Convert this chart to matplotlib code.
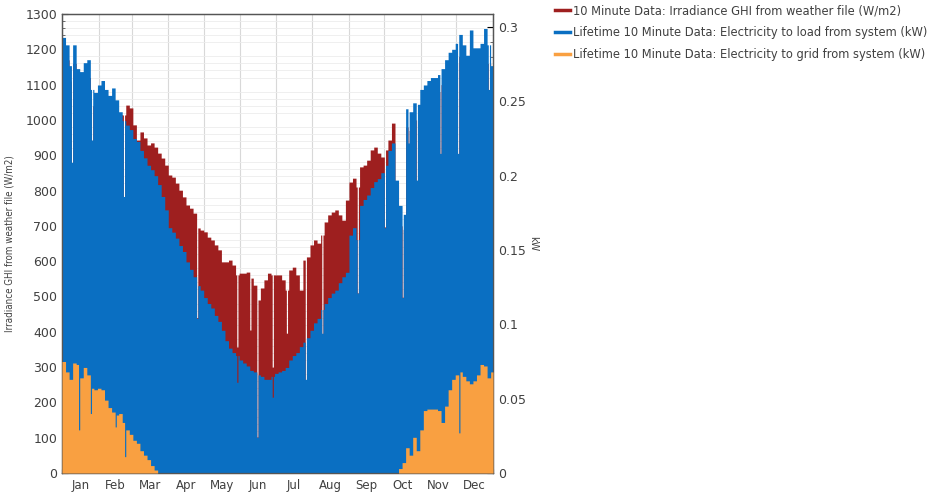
import numpy as np
import matplotlib
matplotlib.use("Agg")
import matplotlib.pyplot as plt
from matplotlib.lines import Line2D

# 3-day envelope values (day 0, 3, 6, ... 363)
ghi_wm2 = [
    1190, 1170, 1110, 1160, 1100, 1090, 1110, 1120, 1040, 1030, 1050, 1060,
    1040, 1020, 1040, 1000, 1015, 1014, 1042, 1034, 986, 943, 966, 949,
    929, 935, 923, 906, 892, 872, 844, 838, 821, 801, 782, 759,
    750, 736, 694, 688, 683, 668, 660, 646, 632, 598, 598, 603,
    589, 561, 566, 566, 569, 552, 532, 490, 524, 547, 566, 561,
    561, 561, 547, 518, 575, 583, 561, 518, 603, 612, 646, 660,
    651, 674, 711, 731, 739, 745, 731, 716, 773, 824, 835, 810,
    867, 872, 886, 915, 923, 906, 895, 915, 943, 991, 816, 700,
    690, 980, 970, 1000, 1000, 1040, 1050, 1060, 1070, 1070, 1080, 1100,
    1120, 1140, 1150, 1160, 1180, 1160, 1130, 1200, 1150, 1150, 1160, 1210,
    1160, 1100,
]
load_kw = [
    0.293, 0.288, 0.274, 0.288, 0.272, 0.270, 0.276, 0.278, 0.258, 0.256, 0.261, 0.264,
    0.258, 0.254, 0.259, 0.251, 0.243, 0.237, 0.234, 0.231, 0.225, 0.223, 0.217, 0.212,
    0.207, 0.204, 0.200, 0.194, 0.186, 0.177, 0.165, 0.162, 0.158, 0.153, 0.149, 0.142,
    0.137, 0.132, 0.126, 0.123, 0.118, 0.114, 0.111, 0.106, 0.102, 0.096, 0.089, 0.084,
    0.081, 0.079, 0.076, 0.074, 0.072, 0.069, 0.068, 0.066, 0.065, 0.063, 0.063, 0.065,
    0.067, 0.068, 0.069, 0.071, 0.076, 0.079, 0.081, 0.085, 0.088, 0.091, 0.096, 0.101,
    0.104, 0.110, 0.114, 0.118, 0.121, 0.123, 0.128, 0.132, 0.135, 0.160, 0.165, 0.157,
    0.180, 0.184, 0.187, 0.192, 0.196, 0.198, 0.202, 0.207, 0.217, 0.222, 0.197, 0.180,
    0.174, 0.245, 0.243, 0.249, 0.248, 0.258, 0.261, 0.264, 0.266, 0.266, 0.268, 0.272,
    0.278, 0.283, 0.285, 0.289, 0.295, 0.288, 0.281, 0.298, 0.286, 0.286, 0.289, 0.299,
    0.288, 0.274,
]
grid_kw = [
    0.075, 0.068, 0.063, 0.074, 0.073, 0.064, 0.071, 0.066, 0.057, 0.056, 0.057, 0.056,
    0.049, 0.044, 0.041, 0.039, 0.040, 0.034, 0.029, 0.026, 0.022, 0.020, 0.015, 0.012,
    0.009, 0.005, 0.002,
] + [0.0] * 68 + [
    0.003, 0.007, 0.017, 0.012, 0.024, 0.015, 0.029, 0.042, 0.043, 0.043, 0.043, 0.042,
    0.034, 0.045, 0.056, 0.063, 0.066, 0.068, 0.065, 0.062, 0.060, 0.062, 0.066, 0.073,
    0.072, 0.064, 0.068,
]

# cloudy days (day of year, load kW, GHI W/m2)
dip_days = [8, 25, 52, 114, 148, 159, 165, 178, 190, 206, 220, 250, 273, 288, 293, 300, 320, 335, 361]
dip_load = [0.209, 0.224, 0.186, 0.104, 0.061, None, 0.024, 0.051, None, 0.063, 0.094, 0.121,
            0.165, 0.118, 0.222, 0.197, 0.215, 0.215, 0.258]
dip_ghi = [800, 900, 770, 440, 357, 405, 102, 300, 396, 263, 390, 510, 697, 498, 900, 800, 850, 850, 1050]
grid_dip_days = [14, 24, 45, 53, 336]
grid_dip_kw = [0.029, 0.040, 0.031, 0.011, 0.027]

months = ["Jan", "Feb", "Mar", "Apr", "May", "Jun", "Jul", "Aug", "Sep", "Oct", "Nov", "Dec"]
month_len = [31, 28, 31, 30, 31, 30, 31, 31, 30, 31, 30, 31]

# daily series from the 3-day values
ghi = np.repeat(np.array(ghi_wm2, float), 3)[:365]
load = np.repeat(np.array(load_kw, float), 3)[:365]
grid = np.repeat(np.array(grid_kw, float), 3)[:365]
for d, l, g in zip(dip_days, dip_load, dip_ghi):
    if l is not None:
        load[d] = l
    ghi[d] = g
for d, k in zip(grid_dip_days, grid_dip_kw):
    grid[d] = k

days = np.arange(366)
ghi = np.append(ghi, ghi[-1])
load = np.append(load, load[-1])
grid = np.append(grid, grid[-1])

RED = "#9E1F1F"
BLUE = "#0A6FC2"
ORANGE = "#F9A041"
TXT = "#404040"

fig = plt.figure(figsize=(9.33, 4.92), dpi=100)
ax = fig.add_axes([62 / 933, 19 / 492, 431 / 933, 459 / 492])
ax2 = ax.twinx()

ax.fill_between(days, ghi, step="post", color=RED, lw=0, zorder=2)
ax2.fill_between(days, load, step="post", color=BLUE, lw=0, zorder=2)
ax2.fill_between(days, grid, step="post", color=ORANGE, lw=0, zorder=3)

ax.set_xlim(0, 365)
ax.set_ylim(0, 1300)
ax2.set_ylim(0, 0.3 * 459 / 446)

bounds = np.concatenate([[0], np.cumsum(month_len)])
mids = (bounds[:-1] + bounds[1:]) / 2
ax.set_xticks(bounds)
ax.set_xticklabels([])
ax.set_xticks(mids, minor=True)
ax.set_xticklabels(months, minor=True)
ax.tick_params(axis="x", which="minor", length=0, labelsize=8.5, colors=TXT, pad=4)
ax.tick_params(axis="x", which="major", direction="in", length=3, color="#222222")

ax.set_yticks(np.arange(0, 1301, 100))
ax.set_yticks(np.arange(0, 1301, 20), minor=True)
ax.tick_params(axis="y", which="major", direction="in", length=4, labelsize=9,
               color="#222222", labelcolor=TXT)
ax.tick_params(axis="y", which="minor", direction="in", length=2, color="#555555")

ax2.set_yticks([0, 0.05, 0.1, 0.15, 0.2, 0.25, 0.3])
ax2.set_yticklabels(["0", "0.05", "0.1", "0.15", "0.2", "0.25", "0.3"])
ax2.set_yticks(np.arange(0, 0.305, 0.01), minor=True)
ax2.tick_params(axis="y", which="major", direction="in", length=4, labelsize=9, labelcolor=TXT)
ax2.tick_params(axis="y", which="minor", direction="in", length=2, color="#555555")

ax.grid(True, which="major", axis="x", color="#d8d8d8", lw=0.8, zorder=0)
ax.grid(True, which="minor", axis="y", color="#ececec", lw=0.6, zorder=0)
ax.set_axisbelow(True)

for a in (ax, ax2):
    for s in a.spines.values():
        s.set_color("#555555")
        s.set_linewidth(0.9)

ax.set_ylabel("Irradiance GHI from weather file (W/m2)", fontsize=7, fontstretch="condensed",
              family=["DejaVu Sans"], color=TXT, labelpad=8)
ax2.set_ylabel("kW", fontsize=7, color=TXT, rotation=270, labelpad=9)

handles = [Line2D([], [], color=RED, lw=2.5),
           Line2D([], [], color=BLUE, lw=2.5),
           Line2D([], [], color=ORANGE, lw=2.5)]
labels = ["10 Minute Data: Irradiance GHI from weather file (W/m2)",
          "Lifetime 10 Minute Data: Electricity to load from system (kW)",
          "Lifetime 10 Minute Data: Electricity to grid from system (kW)"]
fig.legend(handles, labels, loc="upper left", bbox_to_anchor=(548 / 933, 1.005),
           frameon=False, fontsize=8.3, handlelength=1.3, handletextpad=0.3,
           labelspacing=0.75, labelcolor=TXT, borderaxespad=0.2)

fig.savefig("out.png", dpi=100)
